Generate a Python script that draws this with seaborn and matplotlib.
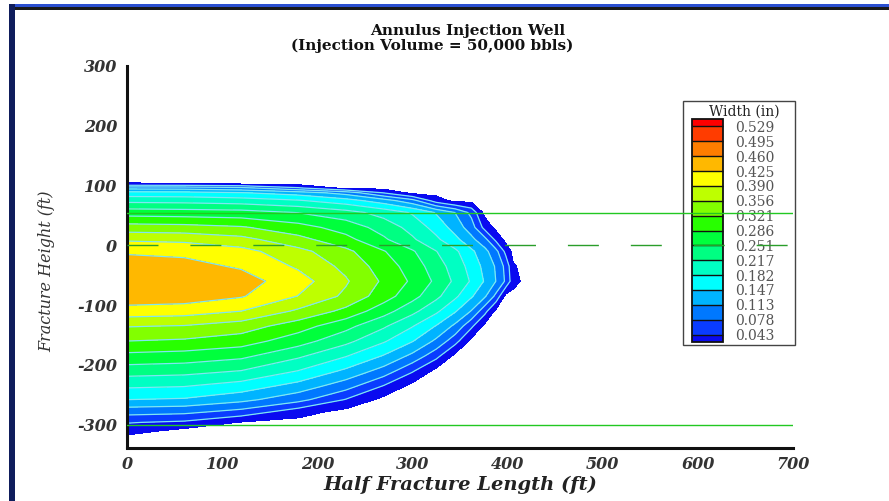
import numpy as np
import pandas as pd
import seaborn as sns
import matplotlib.pyplot as plt
from matplotlib.colors import ListedColormap, BoundaryNorm
from matplotlib.cm import ScalarMappable
from matplotlib.patches import Rectangle
from matplotlib.ticker import MultipleLocator

# fracture width grid (in)
half_length = [0, 60, 120, 180, 230, 270, 300, 325, 345, 362, 376, 388, 398, 406, 420]
height = [112, 103, 96, 88, 75, 55, 30, 10, -10, -35, -60, -85, -110, -135,
          -160, -185, -210, -235, -258, -278, -296, -310, -322]
width_in = [
    [0, 0, 0, 0, 0, 0, 0, 0, 0, 0, 0, 0, 0, 0, 0],
    [.012, .011, .006, 0, 0, 0, 0, 0, 0, 0, 0, 0, 0, 0, 0],
    [.101, .099, .087, .047, 0, 0, 0, 0, 0, 0, 0, 0, 0, 0, 0],
    [.159, .157, .149, .131, .099, .041, 0, 0, 0, 0, 0, 0, 0, 0, 0],
    [.207, .205, .199, .185, .161, .128, .090, .025, 0, 0, 0, 0, 0, 0, 0],
    [.270, .267, .264, .250, .230, .204, .178, .144, .112, .068, 0, 0, 0, 0, 0],
    [.337, .334, .325, .300, .271, .237, .205, .169, .133, .095, .031, 0, 0, 0, 0],
    [.385, .381, .367, .332, .297, .256, .222, .189, .156, .122, .089, .033, 0, 0, 0],
    [.421, .417, .402, .367, .330, .288, .255, .218, .189, .154, .124, .088, .034, 0, 0],
    [.440, .436, .421, .385, .347, .304, .270, .233, .202, .169, .137, .109, .068, .013, 0],
    [.456, .451, .440, .405, .360, .315, .280, .244, .210, .178, .144, .112, .073, .021, 0],
    [.448, .444, .428, .389, .349, .302, .263, .226, .189, .151, .118, .068, 0, 0, 0],
    [.410, .406, .390, .350, .311, .265, .227, .189, .150, .111, .055, 0, 0, 0, 0],
    [.358, .354, .339, .302, .262, .222, .184, .145, .105, .050, 0, 0, 0, 0, 0],
    [.321, .316, .303, .266, .227, .186, .149, .106, .056, 0, 0, 0, 0, 0, 0],
    [.276, .271, .259, .223, .184, .144, .104, .054, 0, 0, 0, 0, 0, 0, 0],
    [.233, .229, .216, .181, .140, .099, .047, 0, 0, 0, 0, 0, 0, 0, 0],
    [.188, .184, .167, .134, .094, .041, 0, 0, 0, 0, 0, 0, 0, 0, 0],
    [.147, .143, .123, .090, .041, 0, 0, 0, 0, 0, 0, 0, 0, 0, 0],
    [.093, .088, .067, .024, 0, 0, 0, 0, 0, 0, 0, 0, 0, 0, 0],
    [.045, .037, .008, 0, 0, 0, 0, 0, 0, 0, 0, 0, 0, 0, 0],
    [.024, 0, 0, 0, 0, 0, 0, 0, 0, 0, 0, 0, 0, 0, 0],
    [0, 0, 0, 0, 0, 0, 0, 0, 0, 0, 0, 0, 0, 0, 0],
]
legend_levels = [0.043, 0.078, 0.113, 0.147, 0.182, 0.217, 0.251, 0.286,
                 0.321, 0.356, 0.390, 0.425, 0.460, 0.495, 0.529]
edge_level = 0.01
top_level = 1.0
solid_refs = [55, -300]   # ft
dashed_refs = [0]

band_colors = ['#0a0af0', '#0a3cff', '#0078ff', '#00b4ff', '#00ffff', '#00ffc3',
               '#00ff82', '#00ff3c', '#28ff00', '#82ff00', '#beff00', '#ffff00',
               '#ffb800', '#ff7d00', '#ff3c00', '#ff0000']

df = pd.DataFrame(width_in, index=height, columns=half_length)

sns.set_style("white")
plt.rcParams['font.family'] = ['DejaVu Serif']

W, H = 889, 501
fig = plt.figure(figsize=(W / 100, H / 100), dpi=100)
fig.patch.set_facecolor('white')

ax = fig.add_axes([127 / W, 1 - 447.5 / H, 666 / W, 381.5 / H])
ax.patch.set_alpha(0)

fill_levels = [edge_level] + legend_levels + [top_level]
ax.contourf(df.columns.values, df.index.values, df.values,
            levels=fill_levels, colors=band_colors, zorder=1)
ax.contour(df.columns.values, df.index.values, df.values,
           levels=legend_levels, colors='#7fe6f2', linewidths=0.9, zorder=2)

for y in solid_refs:
    ax.axhline(y, color='#22c822', linewidth=1.0, zorder=3)
for y in dashed_refs:
    ax.axhline(y, color='#2a9e2a', linewidth=1.0, linestyle=(0, (22.3, 23)), zorder=3)

ax.set_xlim(0, 700)
ax.set_ylim(-338, 300)
sns.despine(ax=ax)
for s in ['left', 'bottom']:
    ax.spines[s].set_linewidth(2.2)
    ax.spines[s].set_color('#111111')

xt = list(range(0, 701, 100))
yt = list(range(-300, 301, 100))
ax.set_xticks(xt)
ax.set_yticks(yt)
ax.set_xticklabels([str(v) for v in xt], fontstyle='italic', fontweight='bold',
                   fontsize=11.5, color='#333333')
ax.set_yticklabels([str(v) for v in yt], fontstyle='italic', fontweight='bold',
                   fontsize=11.5, color='#333333')
ax.xaxis.set_minor_locator(MultipleLocator(20))
ax.yaxis.set_minor_locator(MultipleLocator(20))
ax.tick_params(which='major', direction='in', length=7, width=1.6, color='#111111')
ax.tick_params(which='minor', direction='in', length=3.6, width=1.0, color='#111111')
ax.tick_params(axis='x', which='major', pad=6)
ax.tick_params(axis='y', which='major', pad=7)

ax.set_xlabel('Half Fracture Length (ft)', fontsize=14, fontstyle='italic',
              fontweight='bold', color='#222222')
ax.xaxis.set_label_coords(0.5, -0.075)
ax.set_ylabel('Fracture Height (ft)', fontsize=11.5, fontstyle='italic',
              color='#333333')
ax.yaxis.set_label_coords(-0.108, 0.462)

fig.text(468 / W, 1 - 35 / H, 'Annulus Injection Well', ha='center',
         va='baseline', fontsize=11, fontweight='bold', color='#111111')
fig.text(432 / W, 1 - 50 / H, '(Injection Volume = 50,000 bbls)', ha='center',
         va='baseline', fontsize=11, fontweight='bold', color='#111111')

# colour legend
cmap = ListedColormap(band_colors[1:-1])
cmap.set_under(band_colors[0])
cmap.set_over(band_colors[-1])
norm = BoundaryNorm(legend_levels, cmap.N)
cax = fig.add_axes([692 / W, 1 - 342 / H, 31 / W, 223 / H])
cax.set_zorder(-1)
ax.set_zorder(1)
cb = fig.colorbar(ScalarMappable(norm=norm, cmap=cmap), cax=cax, extend='both',
                  extendrect=True, extendfrac=0.036, drawedges=True,
                  ticks=legend_levels, spacing='uniform')
cb.outline.set_linewidth(1.3)
cb.outline.set_edgecolor('#111111')
cb.dividers.set_color('#111111')
cb.dividers.set_linewidth(1.0)
cax.set_yticklabels([f"{v:.3f}" for v in legend_levels])
cax.tick_params(length=0, pad=9, labelsize=10, labelcolor='#555555')
fig.text(744 / W, 1 - 112 / H, 'Width (in)', ha='center', va='center',
         fontsize=10, color='#222222')
fig.add_artist(Rectangle((683 / W, 1 - 345 / H), 112 / W, 244 / H,
                         transform=fig.transFigure, fill=False, lw=1.0,
                         ec='#444444', zorder=-2))

# window frame
fig.add_artist(Rectangle((9 / W, 1 - 7 / H), 880 / W, 3 / H, transform=fig.transFigure,
                         fc='#2b4fd0', ec='none'))
fig.add_artist(Rectangle((9 / W, 1 - 10 / H), 880 / W, 3 / H, transform=fig.transFigure,
                         fc='#1a1a1a', ec='none'))
fig.add_artist(Rectangle((9 / W, 0), 6 / W, 1 - 4 / H, transform=fig.transFigure,
                         fc='#0f1d5c', ec='none'))

fig.savefig('out.png', dpi=100)
